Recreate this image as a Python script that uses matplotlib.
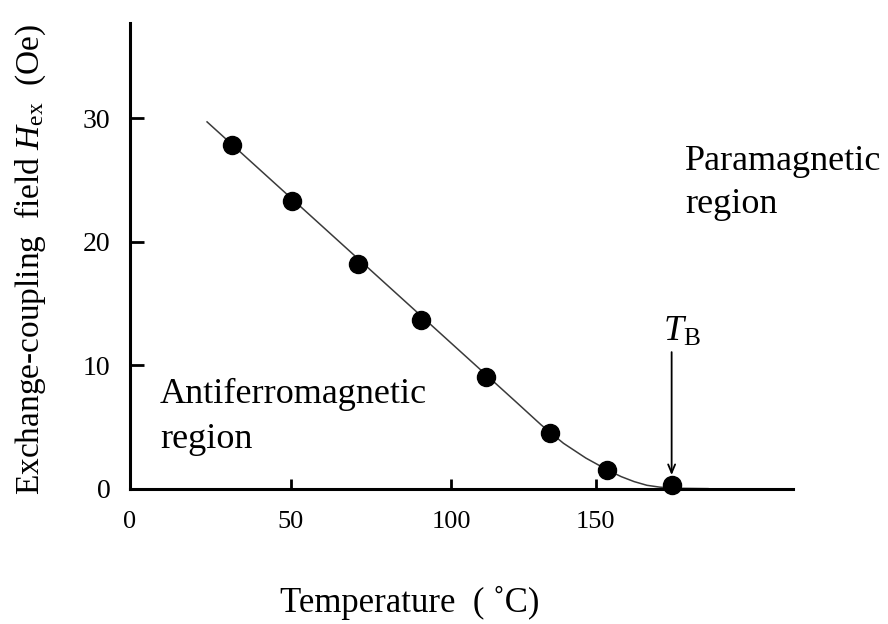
import matplotlib
matplotlib.use("Agg")
import matplotlib.pyplot as plt

plt.rcParams['font.family'] = ['Liberation Serif', 'DejaVu Serif']
plt.rcParams['mathtext.fontset'] = 'custom'
plt.rcParams['mathtext.rm'] = 'Liberation Serif'
plt.rcParams['mathtext.it'] = 'Liberation Serif:italic'

# measured points (temperature in C, Hex in Oe)
temp = [31.9, 50.4, 70.9, 90.6, 110.9, 130.8, 148.7, 168.7]
hex_oe = [27.8, 23.3, 18.2, 13.7, 9.1, 4.5, 1.5, 0.3]

# guide curve
curve_t = [24, 120, 128, 135, 142, 149, 153, 157, 161, 165, 170, 180]
curve_h = [29.7, 7.1, 5.2, 3.7, 2.5, 1.5, 1.0, 0.6, 0.3, 0.15, 0.06, 0.03]

xticks = [0, 50, 100, 145]
xlabels = ['0', '50', '100', '150']
yticks = [0, 10, 20, 30]

fig = plt.figure(figsize=(8.88, 6.24), dpi=100)
ax = fig.add_axes([130/888, 1-489/624, (793-130)/888, (489-23)/624])

ax.plot(curve_t, curve_h, color='#3a3a3a', lw=1.1)
ax.plot(temp, hex_oe, 'o', color='black', ms=13, clip_on=False, zorder=5)

ax.set_xlim(0, 206.5)
ax.set_ylim(0, 37.7)
ax.set_xticks(xticks)
ax.set_xticklabels(xlabels)
ax.set_yticks(yticks)

for s in ['top', 'right']:
    ax.spines[s].set_visible(False)
for s in ['left', 'bottom']:
    ax.spines[s].set_linewidth(2.2)
ax.tick_params(axis='x', direction='in', length=7.5, width=2, pad=16, labelsize=19)
ax.tick_params(axis='y', direction='in', length=10, width=2, pad=14, labelsize=20)

# blocking temperature arrow
ax.annotate('', xy=(168.7, 0.9), xytext=(168.7, 11.3),
            arrowprops=dict(arrowstyle='->,head_length=0.6,head_width=0.25', lw=1.3, color='black'))
ax.text(166, 12.0, r'$T_{\rm B}$', fontsize=26, ha='left', va='baseline')

fig.text(160/888, 1-417/624, 'Antiferromagnetic\nregion', fontsize=26, ha='left', va='center',
         linespacing=1.45)
fig.text(685/888, 1-183/624, 'Paramagnetic\nregion', fontsize=26, ha='left', va='center',
         linespacing=1.4)

fig.text(410/888, 1-603/624, 'Temperature\u2002( \u02daC)', fontsize=25, ha='center', va='center')
fig.text(30/888, 1-260/624, r'Exchange-coupling  field $H_{\rm ex}$  (Oe)', fontsize=24,
         rotation=90, ha='center', va='center')

fig.savefig('out.png', dpi=100)
